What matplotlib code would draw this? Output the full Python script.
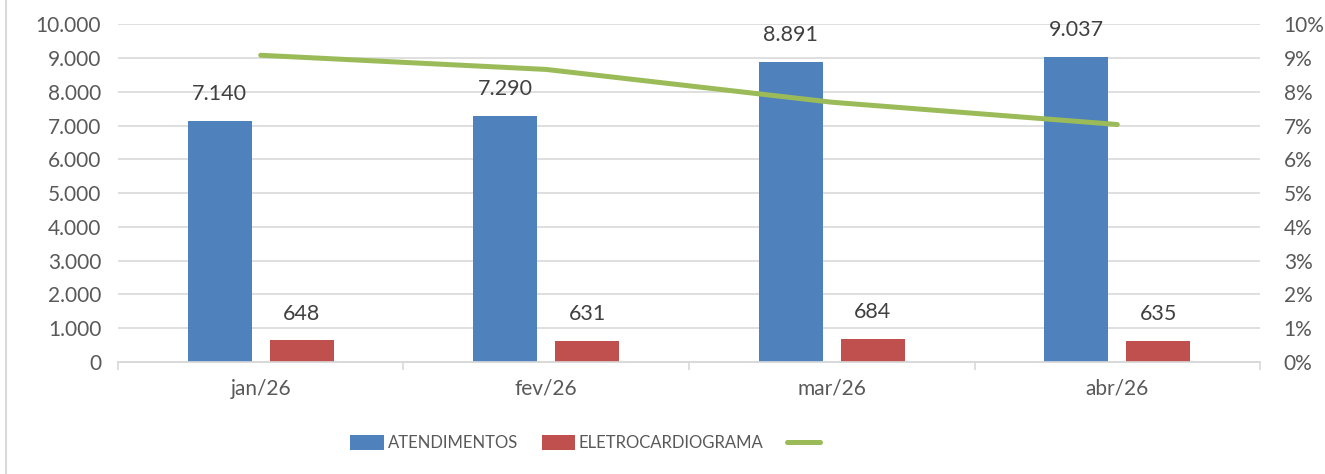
import matplotlib.pyplot as plt
import matplotlib.ticker as mticker
from matplotlib import font_manager
import numpy as np

# data
months = ["jan/26", "fev/26", "mar/26", "abr/26"]
atendimentos = [7140, 7290, 8891, 9037]
eletro = [648, 631, 684, 635]
taxa = [9.08, 8.66, 7.69, 7.03]  # % ECG / atendimentos

plt.rcParams['font.family'] = ['Lato', 'DejaVu Sans']
TXT = '#595959'
GRID = '#d9d9d9'
BLUE = '#4f81bd'
RED = '#c0504d'
GREEN = '#9bbb59'

names = {f.name for f in font_manager.fontManager.ttflist}
narrow = 'Liberation Sans Narrow' if 'Liberation Sans Narrow' in names else 'Lato'
leg_size = 14 if narrow != 'Lato' else 12

fig = plt.figure(figsize=(13.25, 4.74), dpi=100)
ax = fig.add_axes([0.089, 0.2363, 0.862, 0.7127])
ax2 = ax.twinx()

x = np.arange(len(months))
w = 0.224
off = 0.144
b1 = ax.bar(x - off, atendimentos, w, color=BLUE, label="ATENDIMENTOS", zorder=3)
b2 = ax.bar(x + off, eletro, w, color=RED, label="ELETROCARDIOGRAMA", zorder=3)

for bars in (b1, b2):
    for r in bars:
        v = r.get_height()
        ax.annotate(f"{v:,.0f}".replace(",", "."),
                    (r.get_x() + r.get_width() / 2, v),
                    xytext=(0, 19), textcoords='offset points',
                    ha='center', va='center', fontsize=15.5, color='#404040')

ln, = ax2.plot(x, taxa, color=GREEN, lw=3.6, solid_capstyle='round', label=" ")

ax.set_xlim(-0.5, 3.5)
ax.set_ylim(0, 10000)
ax.set_yticks(np.arange(0, 10001, 1000))
ax.yaxis.set_major_formatter(mticker.FuncFormatter(lambda v, p: f"{v:,.0f}".replace(",", ".")))
ax2.set_ylim(0, 10)
ax2.set_yticks(np.arange(0, 11, 1))
ax2.yaxis.set_major_formatter(mticker.FuncFormatter(lambda v, p: f"{v:.0f}%"))

ax.grid(axis='y', color=GRID, lw=1.2, zorder=0)
ax.set_axisbelow(True)
for a in (ax, ax2):
    for s in ('top', 'left', 'right'):
        a.spines[s].set_visible(False)
    a.spines['bottom'].set_color(GRID)
    a.spines['bottom'].set_linewidth(1.2)
    a.tick_params(axis='y', length=0, labelsize=15, labelcolor=TXT)
ax.tick_params(axis='y', pad=12)
ax2.tick_params(axis='y', pad=17)

ax.set_xticks(x)
ax.set_xticklabels(months)
ax.set_xticks(np.arange(-0.5, 4, 1), minor=True)
ax.tick_params(axis='x', which='major', length=0, labelsize=15, labelcolor=TXT, pad=12)
ax.tick_params(axis='x', which='minor', length=6, color=GRID, width=1.2)

fig.legend(handles=[b1, b2, ln], loc='center', bbox_to_anchor=(0.445, 0.065),
           ncol=3, frameon=False, labelcolor=TXT,
           prop={'family': [narrow, 'DejaVu Sans'], 'size': leg_size},
           handlelength=2.0, handleheight=1.0, handletextpad=0.25, columnspacing=1.4)

fig.add_artist(plt.Line2D([6 / 1325, 6 / 1325], [0, 1], color=GRID, lw=1.5))

fig.savefig("out.png", dpi=100)
